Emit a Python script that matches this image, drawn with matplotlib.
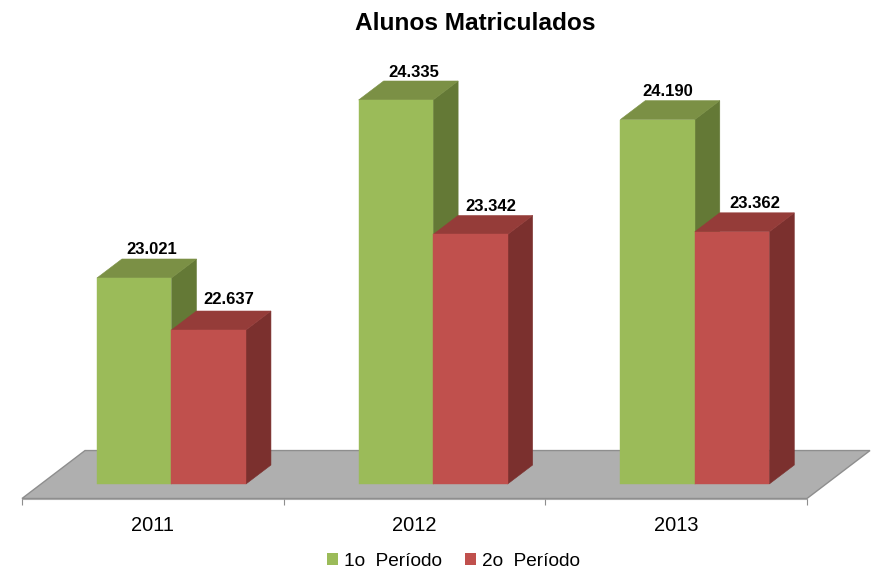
import matplotlib
matplotlib.use("Agg")
import matplotlib.pyplot as plt
from matplotlib.patches import Polygon, Patch

plt.rcParams['font.family'] = ['Liberation Sans', 'DejaVu Sans']

years = ['2011', '2012', '2013']
periodo1 = [23021, 24335, 24190]
periodo2 = [22637, 23342, 23362]
series_names = ['1o  Período', '2o  Período']
base_value = 21500
title = 'Alunos Matriculados'

W, H = 875, 574
fig = plt.figure(figsize=(W / 100, H / 100), dpi=100)
ax = fig.add_axes([22 / W, 1 - 498.5 / H, 785 / W, 438.5 / H])
ax.set_xlim(0, 3)
ax.set_ylim(21393, 24630)

bar_w = 0.2847
shift = 0.0712
dx, dy = 0.0955, 140          # bar depth in data units
fdx, fdy = 0.2408, 354        # floor depth in data units

front = ['#9BBB59', '#C0504D']
top = ['#7B9045', '#953C39']
side = ['#647936', '#7B302E']

# floor
y0 = ax.get_ylim()[0]
ax.add_patch(Polygon([(0, y0), (3, y0), (3 + fdx, y0 + fdy), (fdx, y0 + fdy)],
                     closed=True, facecolor='#AFAFAF', edgecolor='#8E8E8E',
                     linewidth=1, clip_on=False, zorder=1))


def box(left, value, idx, z):
    right = left + bar_w
    ax.add_patch(Polygon([(right, base_value), (right + dx, base_value + dy),
                          (right + dx, value + dy), (right, value)],
                         closed=True, facecolor=side[idx], edgecolor=side[idx],
                         linewidth=0.4, clip_on=False, zorder=z))
    ax.add_patch(Polygon([(left, value), (right, value),
                          (right + dx, value + dy), (left + dx, value + dy)],
                         closed=True, facecolor=top[idx], edgecolor=top[idx],
                         linewidth=0.4, clip_on=False, zorder=z + 0.1))
    ax.bar(left, value - base_value, width=bar_w, bottom=base_value, align='edge',
           color=front[idx], edgecolor=front[idx], linewidth=0.3, zorder=z + 0.2)


label_shift = [[(18, 28), (20, 30)], [(18, 27), (20, 28)], [(10, 28), (23, 28)]]

for i in range(len(years)):
    mid = i + 0.5 + shift
    for idx, vals in enumerate([periodo1, periodo2]):
        left = mid - bar_w if idx == 0 else mid
        box(left, vals[i], idx, 2 + idx)
        ox, oy = label_shift[i][idx]
        text = f'{vals[i] / 1000:.3f}'
        ax.annotate(text, (left + bar_w / 2, vals[i]), xytext=(ox * 0.72, oy * 0.72),
                    textcoords='offset points', ha='center', va='center',
                    fontsize=12, fontweight='bold', color='black', zorder=10,
                    annotation_clip=False)

for s in ['top', 'left', 'right']:
    ax.spines[s].set_visible(False)
ax.spines['bottom'].set_color('#B0B0B0')
ax.spines['bottom'].set_zorder(0.5)
ax.patch.set_alpha(0)
ax.set_yticks([])
ax.set_xticks([0, 1, 2, 3])
ax.set_xticklabels([])
ax.tick_params(axis='x', which='major', length=4.5, width=0.8, color='#8E8E8E')
ax.set_xticks([0.5, 1.5, 2.5], minor=True)
ax.set_xticklabels(years, minor=True, fontsize=14.4, color='black')
ax.tick_params(axis='x', which='minor', length=0, pad=12.5)

fig.text(475 / W, 1 - 23 / H, title, ha='center', va='center',
         fontsize=17.6, fontweight='bold', color='black')

handles = [Patch(facecolor=front[0], label=series_names[0]),
           Patch(facecolor=front[1], label=series_names[1])]
fig.legend(handles=handles, loc='center', bbox_to_anchor=(453.5 / W, 1 - 561 / H),
           ncol=2, frameon=False, fontsize=13.7, handlelength=0.58, handleheight=0.58,
           handletextpad=0.3, columnspacing=1.25, borderpad=0)

fig.savefig('out.png', dpi=100)
